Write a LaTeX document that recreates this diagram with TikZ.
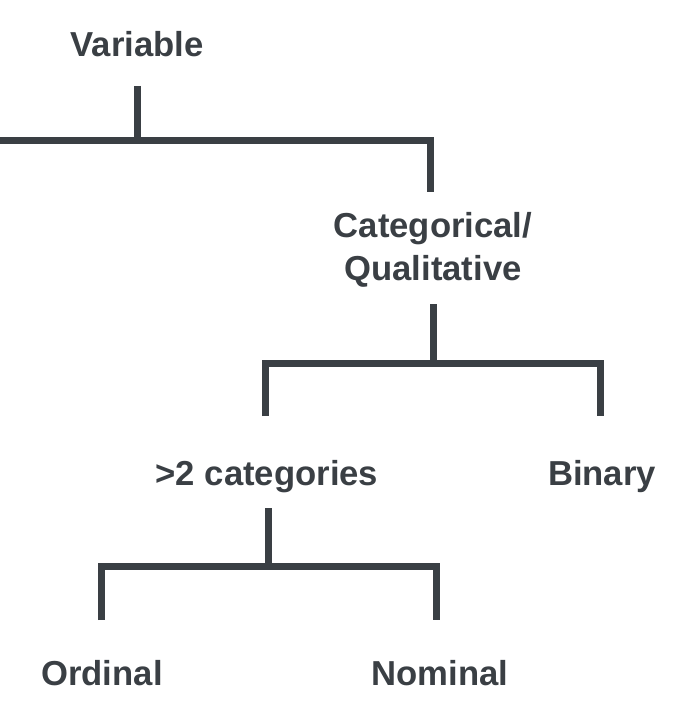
\documentclass[tikz,border=0pt]{standalone}
\usepackage{fontspec}
\setmainfont{Liberation Sans}
\usetikzlibrary{positioning}
\definecolor{treegray}{RGB}{58,63,68}

\begin{document}
\begin{tikzpicture}[x=0.75pt, y=-0.75pt,
    label/.style={font=\bfseries\fontsize{26}{32}\selectfont, text=treegray, inner sep=0pt, align=center},
    branch/.style={draw=treegray, line width=5.25pt}
]
    \useasboundingbox (0,0) rectangle (682,724);
    \node[label] (var) at (137,44) {Variable};
    \node[label] (cat) at (433,250) {Categorical/\\Qualitative};
    \node[label] (multi) at (267,477) {>2 categories};
    \node[label] (bin) at (602,477) {Binary};
    \node[label] (ord) at (102,673) {Ordinal};
    \node[label] (nom) at (440,673) {Nominal};

    % free ends and junctions
    \coordinate (leftend) at (-5,140);
    \coordinate (varbar) at (137,140);
    \coordinate (catbar) at (433,363);
    \coordinate (multibar) at (268,566);

    \draw[branch] (137,86) -- (varbar);
    \draw[branch] (leftend) -- (430,140) -- (430,192);
    \draw[branch] (433,304) -- (catbar);
    \draw[branch] (265,416) -- (265,363) -- (600,363) -- (600,416);
    \draw[branch] (268,508) -- (multibar);
    \draw[branch] (101,620) -- (101,566) -- (436,566) -- (436,620);
\end{tikzpicture}
\end{document}
